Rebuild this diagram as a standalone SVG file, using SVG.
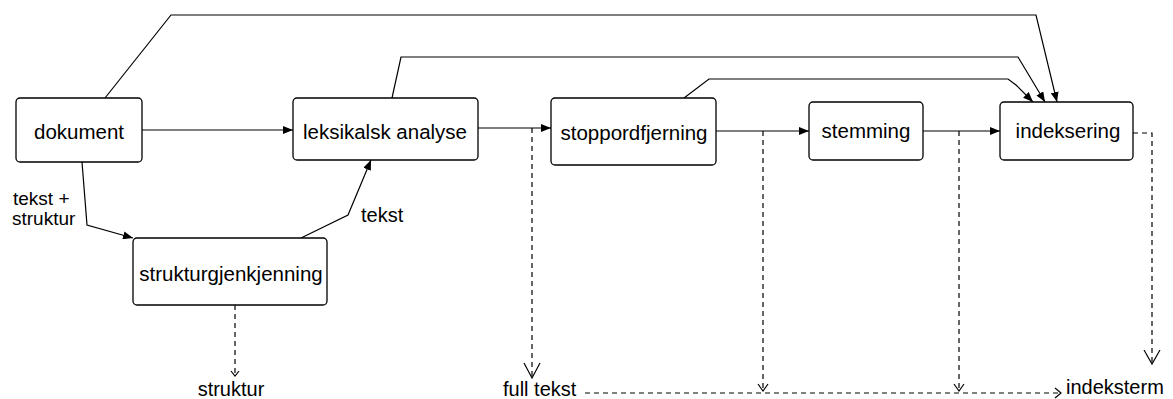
<svg xmlns="http://www.w3.org/2000/svg" width="1173" height="399" viewBox="0 0 1173 399">
<style>
.node rect{fill:#fff;stroke:#000;stroke-width:1.3}
text{font-family:"Liberation Sans",Arial,sans-serif;font-size:20px;fill:#000}
.node text{font-size:20.5px}
.sm{font-size:19px}
.c{text-anchor:middle}
.ln{fill:none;stroke:#000;stroke-width:1.2}
.ds{fill:none;stroke:#000;stroke-width:1.2;stroke-dasharray:5,4}
.open{fill:none;stroke:#000;stroke-width:1.2}
</style>
<defs>
<marker id="fa" markerWidth="11" markerHeight="8" refX="10" refY="4" orient="auto" markerUnits="userSpaceOnUse">
<path d="M0,0 L10,4 L0,8 Z" fill="#000"/>
</marker>
</defs>
<g id="connectors">
<path class="ln" d="M142,130 H293" marker-end="url(#fa)"/>
<path class="ln" d="M478,128 H551" marker-end="url(#fa)"/>
<path class="ln" d="M716,131 H809" marker-end="url(#fa)"/>
<path class="ln" d="M923,131 H1000" marker-end="url(#fa)"/>
<path class="ln" d="M105,98 L171,15 H1036 L1057,102" marker-end="url(#fa)"/>
<path class="ln" d="M392,98 L401,57 H1018 L1045,102" marker-end="url(#fa)"/>
<path class="ln" d="M684,98 L709,79 H1008 L1016,85 L1033,102" marker-end="url(#fa)"/>
<path class="ln" d="M82,162 L87,225 L133,238" marker-end="url(#fa)"/>
<path class="ln" d="M301,238 L348,215 L371,160" marker-end="url(#fa)"/>
<path class="ds" d="M235,305 V375"/>
<path class="open" d="M231,371 L235,376 L239,371"/>
<path class="ds" d="M532,128 V378"/>
<path class="open" d="M524,363 L532,378 L540,363"/>
<path class="ds" d="M763,131 V391"/>
<path class="open" d="M758,384 L763,391 L768,384"/>
<path class="ds" d="M959,131 V391"/>
<path class="open" d="M954,384 L959,391 L964,384"/>
<path class="ds" d="M585,393 H1060"/>
<path class="open" d="M1055,388 L1061,393 L1055,398"/>
<path class="ds" d="M1133,133 H1152 V363"/>
<path class="open" d="M1144,350 L1152,364 L1160,350"/>
</g>
<g id="dokument" class="node"><rect x="16" y="98" width="126" height="64" rx="4"/><text class="c" x="79" y="139">dokument</text></g>
<g id="leksikalsk-analyse" class="node"><rect x="293" y="98" width="185" height="62" rx="4"/><text class="c" x="385" y="139">leksikalsk analyse</text></g>
<g id="stoppordfjerning" class="node"><rect x="551" y="98" width="165" height="67" rx="4"/><text class="c" x="634" y="140">stoppordfjerning</text></g>
<g id="stemming" class="node"><rect x="809" y="102" width="114" height="58" rx="4"/><text class="c" x="866" y="138">stemming</text></g>
<g id="indeksering" class="node"><rect x="1000" y="102" width="133" height="58" rx="4"/><text class="c" x="1068" y="138">indeksering</text></g>
<g id="strukturgjenkjenning" class="node"><rect x="133" y="238" width="194" height="67" rx="4"/><text class="c" x="231" y="281">strukturgjenkjenning</text></g>
<g id="labels">
<text class="sm" x="13" y="205">tekst +</text>
<text class="sm" x="12" y="225">struktur</text>
<text x="361" y="222">tekst</text>
<text class="c" x="231" y="396">struktur</text>
<text x="503" y="396">full tekst</text>
<text x="1066" y="394">indeksterm</text>
</g>
</svg>
